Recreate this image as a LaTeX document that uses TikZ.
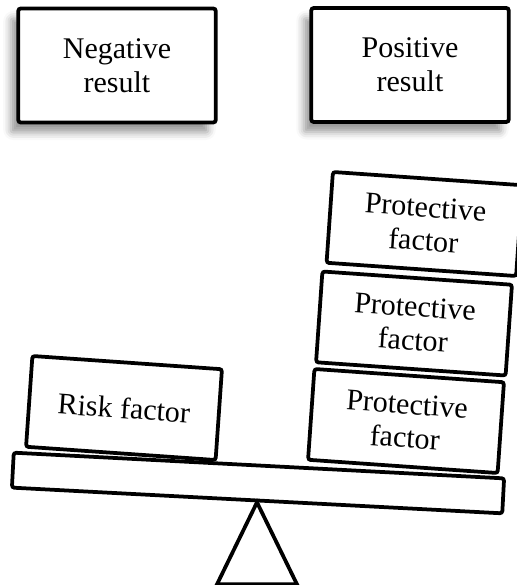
\documentclass[tikz,border=0pt]{standalone}
\usepackage{fontspec}
\setmainfont{Liberation Serif}
\usetikzlibrary{shadows.blur}

\begin{document}
\begin{tikzpicture}[x=0.4pt, y=-0.4pt,
    result/.style={draw, line width=1.5pt, rounded corners=1pt, fill=white, minimum width=79pt, minimum height=45.6pt, inner sep=0pt, align=center, font=\fontsize{12}{13.5}\selectfont, blur shadow={shadow xshift=-3pt, shadow yshift=-4pt, shadow blur radius=3pt, shadow opacity=40}},
    factor/.style={draw, line width=1.5pt, rounded corners=1pt, fill=white, minimum width=76pt, minimum height=36.4pt, inner sep=0pt, align=center, rotate=-4, font=\fontsize{12}{13.5}\selectfont},
    lever/.style={draw, line width=1.5pt, rounded corners=1pt, fill=white, minimum width=196.4pt, minimum height=14pt, inner sep=0pt, rotate=-3}]
    \useasboundingbox (0,0) rectangle (516,585);

    \node[result] (neg) at (117,65.5) {Negative\\result};
    \node[result] (pos) at (410,65) {Positive\\result};

    \node[lever] (beam) at (258,483) {};
    \draw[line width=1.5pt] (beam.south) -- ++(-40,82) -- ++(80,0) -- cycle;

    \node[factor] (risk) at (124,408) {Risk factor};
    \node[factor] (pone) at (406,421) {Protective\\factor};
    \node[factor] (ptwo) at (414,323.5) {Protective\\factor};
    \node[factor] (pthree) at (424.5,224) {Protective\\factor};
  \end{tikzpicture}
\end{document}
